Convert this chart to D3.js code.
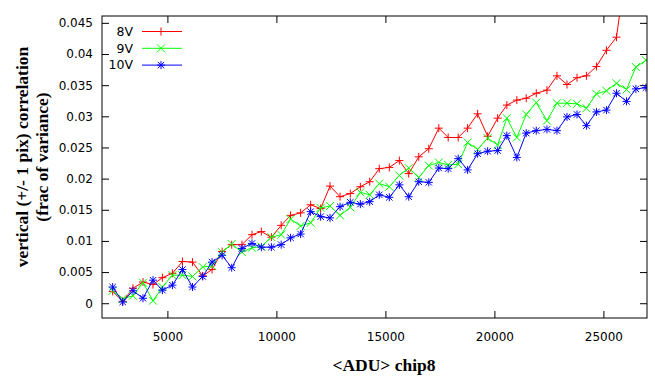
<!DOCTYPE html>
<html>
<head>
<meta charset="utf-8">
<script src="https://cdn.jsdelivr.net/npm/d3@7"></script>
<style>
  body { margin: 0; background: #fff; }
  svg { display: block; }
  .tick text { font-family: "DejaVu Sans", sans-serif; font-size: 12px; }
  .label { font-family: "Liberation Serif", "Times New Roman", serif; font-weight: bold; font-size: 17.5px; }
  .legend text { font-family: "DejaVu Sans", sans-serif; font-size: 12.5px; }
</style>
</head>
<body>
<svg id="chart"></svg>
<script>
// mean signal (ADU) for each point
var adu = [2490, 2950, 3420, 3880, 4340, 4770, 5230, 5690, 6150, 6620,
           7050, 7510, 7950, 8420, 8880, 9310, 9770, 10220, 10650, 11110,
           11570, 12030, 12460, 12920, 13390, 13850, 14280, 14720, 15180, 15640,
           16070, 16530, 16990, 17450, 17880, 18340, 18770, 19230, 19690, 20150,
           20570, 21030, 21460, 21920, 22410, 22870, 23330, 23790, 24220, 24680,
           25140, 25600, 26060, 26490, 26950];

var v8 = [0.0019, 0.0003, 0.0024, 0.0034, 0.0030, 0.0041, 0.0048, 0.0067, 0.0066, 0.0044,
          0.0054, 0.0083, 0.0094, 0.0094, 0.0110, 0.0115, 0.0106, 0.0125, 0.0141, 0.0145,
          0.0158, 0.0152, 0.0188, 0.0171, 0.0176, 0.0187, 0.0195, 0.0216, 0.0218, 0.0229,
          0.0208, 0.0235, 0.0248, 0.0281, 0.0266, 0.0266, 0.0281, 0.0304, 0.0268, 0.0297,
          0.0318, 0.0326, 0.0329, 0.0337, 0.0342, 0.0365, 0.0351, 0.0362, 0.0365, 0.0380,
          0.0406, 0.0427, 0.0545];

var v9 = [0.0020, 0.0007, 0.0012, 0.0033, 0.0004, 0.0026, 0.0045, 0.0045, 0.0043, 0.0058,
          0.0060, 0.0082, 0.0095, 0.0082, 0.0089, 0.0091, 0.0106, 0.0110, 0.0135, 0.0124,
          0.0129, 0.0153, 0.0156, 0.0141, 0.0154, 0.0178, 0.0174, 0.0192, 0.0187, 0.0205,
          0.0217, 0.0202, 0.0221, 0.0226, 0.0222, 0.0223, 0.0258, 0.0247, 0.0265, 0.0254,
          0.0297, 0.0266, 0.0303, 0.0322, 0.0293, 0.0321, 0.0321, 0.0320, 0.0313, 0.0336,
          0.0341, 0.0353, 0.0343, 0.0379, 0.0390];

var v10 = [0.0026, 0.0002, 0.0020, 0.0008, 0.0037, 0.0021, 0.0029, 0.0054, 0.0026, 0.0043,
           0.0066, 0.0077, 0.0057, 0.0088, 0.0096, 0.0090, 0.0090, 0.0094, 0.0105, 0.0111,
           0.0147, 0.0139, 0.0137, 0.0155, 0.0162, 0.0159, 0.0163, 0.0174, 0.0170, 0.0190,
           0.0171, 0.0195, 0.0194, 0.0217, 0.0216, 0.0232, 0.0214, 0.0240, 0.0244, 0.0245,
           0.0269, 0.0234, 0.0273, 0.0277, 0.0279, 0.0277, 0.0299, 0.0303, 0.0285, 0.0307,
           0.0310, 0.0337, 0.0324, 0.0344, 0.0346];

var xTicks = [5000, 10000, 15000, 20000, 25000];
var yTicks = [0, 0.005, 0.01, 0.015, 0.02, 0.025, 0.03, 0.035, 0.04, 0.045];

var series = [
    {name: '8V', values: v8, color: '#ff0000', mark: 'plus'},
    {name: '9V', values: v9, color: '#00ff00', mark: 'cross'},
    {name: '10V', values: v10, color: '#0000ff', mark: 'star'}
];

var width = 655, height = 379;
var margin = {top: 16, right: 8, bottom: 61, left: 102};
var plotW = width - margin.left - margin.right;
var plotH = height - margin.top - margin.bottom;

var svg = d3.select('#chart')
    .attr('width', width)
    .attr('height', height);

var x = d3.scaleLinear().domain([2000, 27000]).range([0, plotW]);
var y = d3.scaleLinear().domain([-0.00237, 0.0461]).range([plotH, 0]);

var g = svg.append('g')
    .attr('transform', 'translate(' + margin.left + ',' + margin.top + ')');

// axes, gnuplot style: inward ticks mirrored on all sides
g.append('g')
    .attr('transform', 'translate(0,' + plotH + ')')
    .call(d3.axisBottom(x).tickValues(xTicks).tickSize(-7).tickPadding(14).tickFormat(d3.format('d')))
    .call(function(a) { a.select('.domain').remove(); });
g.append('g')
    .call(d3.axisTop(x).tickValues(xTicks).tickSize(-7).tickFormat(''))
    .call(function(a) { a.select('.domain').remove(); });
g.append('g')
    .call(d3.axisLeft(y).tickValues(yTicks).tickSize(-7).tickPadding(9).tickFormat(function(d) { return d3.format('')(+d.toFixed(3)); }))
    .call(function(a) { a.select('.domain').remove(); });
g.append('g')
    .attr('transform', 'translate(' + plotW + ',0)')
    .call(d3.axisRight(y).tickValues(yTicks).tickSize(-7).tickFormat(''))
    .call(function(a) { a.select('.domain').remove(); });

g.selectAll('.tick line').attr('stroke', '#000');
g.selectAll('.tick text').attr('fill', '#000');

g.append('clipPath').attr('id', 'clip')
    .append('rect').attr('width', plotW).attr('height', plotH);

function markPath(type, s) {
    var p = '';
    if (type === 'plus' || type === 'star') {
        p += 'M' + (-s) + ',0H' + s + 'M0,' + (-s) + 'V' + s;
    }
    if (type === 'cross' || type === 'star') {
        var c = type === 'star' ? s * 0.8 : s;
        p += 'M' + (-c) + ',' + (-c) + 'L' + c + ',' + c + 'M' + (-c) + ',' + c + 'L' + c + ',' + (-c);
    }
    return p;
}

var line = d3.line()
    .x(function(d, i) { return x(adu[i]); })
    .y(function(d) { return y(d); });

var plots = g.append('g').attr('clip-path', 'url(#clip)');

series.forEach(function(s) {
    plots.append('path')
        .datum(s.values)
        .attr('fill', 'none')
        .attr('stroke', s.color)
        .attr('stroke-width', 1)
        .attr('d', line);
    plots.selectAll('.m' + s.mark)
        .data(s.values)
        .enter()
        .append('path')
        .attr('class', 'm' + s.mark)
        .attr('transform', function(d, i) { return 'translate(' + x(adu[i]) + ',' + y(d) + ')'; })
        .attr('d', markPath(s.mark, 4))
        .attr('stroke', s.color)
        .attr('stroke-width', 1)
        .attr('fill', 'none');
});

// frame
g.append('rect')
    .attr('width', plotW)
    .attr('height', plotH)
    .attr('fill', 'none')
    .attr('stroke', '#000');

// legend
var legend = g.append('g').attr('class', 'legend');
series.forEach(function(s, i) {
    var ly = 15.5 + i * 16.8;
    legend.append('text')
        .attr('x', 31)
        .attr('y', ly)
        .attr('dy', '0.35em')
        .attr('text-anchor', 'end')
        .text(s.name);
    legend.append('line')
        .attr('x1', 40).attr('x2', 80)
        .attr('y1', ly).attr('y2', ly)
        .attr('stroke', s.color);
    legend.append('path')
        .attr('transform', 'translate(59,' + ly + ')')
        .attr('d', markPath(s.mark, 4))
        .attr('stroke', s.color)
        .attr('fill', 'none');
});

// axis labels
svg.append('text')
    .attr('class', 'label')
    .attr('x', 384)
    .attr('y', 371)
    .attr('text-anchor', 'middle')
    .text('<ADU> chip8');

var yl = svg.append('text')
    .attr('class', 'label')
    .attr('text-anchor', 'middle')
    .attr('transform', 'translate(28,157) rotate(-90)');
yl.append('tspan').attr('x', 0).attr('y', 0).text('vertical (+/- 1 pix) correlation');
yl.append('tspan').attr('x', 0).attr('y', 20).text('(frac of variance)');
</script>
</body>
</html>
